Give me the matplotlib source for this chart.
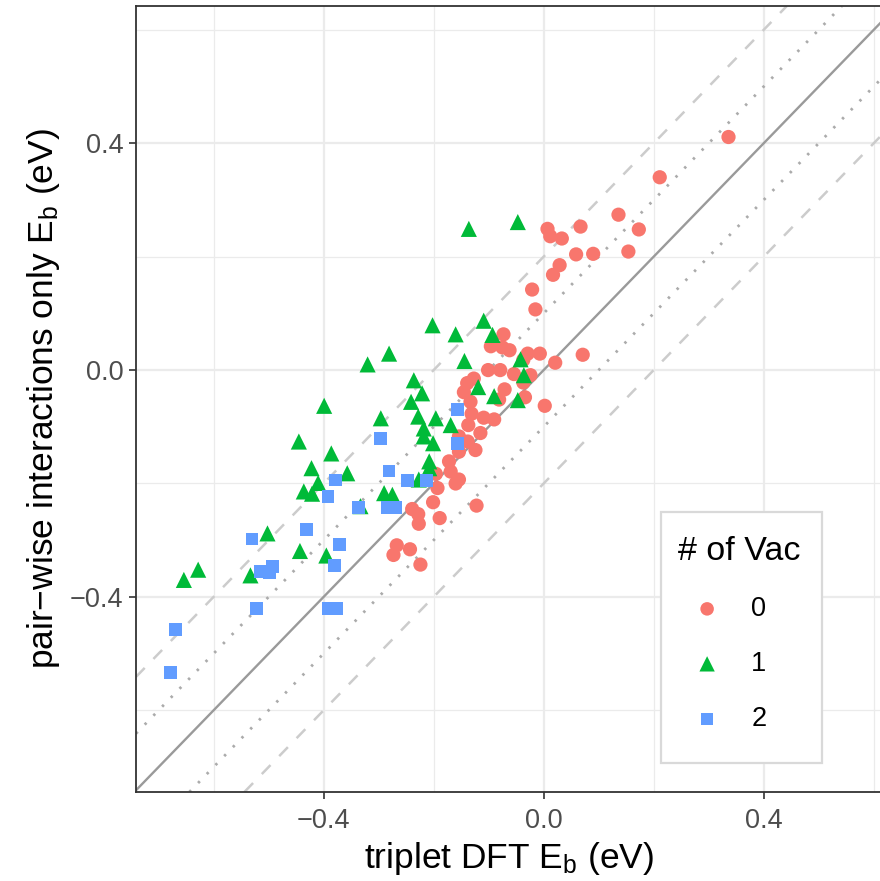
import matplotlib
matplotlib.use("Agg")
import matplotlib.pyplot as plt
from matplotlib.patches import Rectangle
import numpy as np

plt.rcParams['font.family'] = ['Liberation Sans', 'DejaVu Sans']
plt.rcParams['mathtext.default'] = 'regular'

# ---- data ----
vac0_x = [0.336, 0.211, 0.136, 0.173, 0.067, 0.007, 0.012, 0.033, 0.154, 0.059,
          0.090, 0.029, 0.017, -0.021, -0.015, -0.073, -0.096, -0.075, -0.062, -0.029,
          -0.007, -0.037, 0.071, 0.021, -0.101, -0.079, -0.054, -0.024, -0.037, -0.127,
          -0.139, -0.145, -0.071, -0.133, -0.034, 0.002, -0.131, -0.109, -0.090, -0.081,
          -0.137, -0.115, -0.154, -0.138, -0.124, -0.154, -0.172, -0.169, -0.154, -0.196,
          -0.193, -0.201, -0.122, -0.239, -0.228, -0.227, -0.189, -0.267, -0.243, -0.273,
          -0.224, -0.160]
vac0_y = [0.411, 0.340, 0.274, 0.248, 0.253, 0.249, 0.236, 0.232, 0.209, 0.204,
          0.205, 0.185, 0.168, 0.142, 0.107, 0.063, 0.042, 0.040, 0.035, 0.029,
          0.029, 0.018, 0.027, 0.013, 0.000, 0.000, -0.007, -0.009, -0.022, -0.015,
          -0.023, -0.039, -0.034, -0.056, -0.048, -0.063, -0.077, -0.084, -0.087, -0.052,
          -0.097, -0.111, -0.117, -0.126, -0.141, -0.144, -0.161, -0.179, -0.193, -0.183,
          -0.208, -0.233, -0.239, -0.245, -0.254, -0.271, -0.261, -0.309, -0.316, -0.326,
          -0.343, -0.200]

vac1_x = [-0.047, -0.136, -0.109, -0.160, -0.093, -0.144, -0.042, -0.036, -0.119, -0.090,
          -0.047, -0.202, -0.281, -0.236, -0.221, -0.241, -0.296, -0.228, -0.196, -0.169,
          -0.218, -0.218, -0.201, -0.208, -0.208, -0.227, -0.290, -0.275, -0.399, -0.445,
          -0.386, -0.422, -0.357, -0.410, -0.436, -0.421, -0.333, -0.502, -0.443, -0.395,
          -0.628, -0.654, -0.533, -0.320]
vac1_y = [0.261, 0.249, 0.087, 0.063, 0.062, 0.016, 0.019, -0.009, -0.030, -0.046,
          -0.053, 0.079, 0.029, -0.018, -0.041, -0.056, -0.085, -0.082, -0.085, -0.097,
          -0.103, -0.117, -0.129, -0.161, -0.173, -0.193, -0.217, -0.220, -0.063, -0.126,
          -0.147, -0.173, -0.182, -0.199, -0.214, -0.218, -0.240, -0.288, -0.319, -0.327,
          -0.352, -0.370, -0.362, 0.010]

vac2_x = [-0.157, -0.157, -0.281, -0.247, -0.213, -0.296, -0.284, -0.269, -0.379, -0.392,
          -0.336, -0.431, -0.530, -0.371, -0.515, -0.493, -0.498, -0.380, -0.522, -0.391,
          -0.376, -0.669, -0.679]
vac2_y = [-0.070, -0.129, -0.178, -0.195, -0.195, -0.120, -0.243, -0.243, -0.194, -0.223,
          -0.243, -0.281, -0.298, -0.308, -0.355, -0.346, -0.357, -0.345, -0.421, -0.421,
          -0.421, -0.458, -0.533]

groups = ['0', '1', '2']
colors = ['#F8766D', '#00BA38', '#619CFF']
markers = ['o', '^', 's']
sizes = [105, 135, 85]

xticks = [-0.4, 0.0, 0.4]
yticks = [-0.4, 0.0, 0.4]
minor_ticks = [-0.6, -0.2, 0.2, 0.6]

W, H = 880, 881
fig = plt.figure(figsize=(W / 100, H / 100), dpi=100)
ax = fig.add_axes([136 / W, 89 / H, 746 / W, 786 / H])

ax.set_xlim(-0.741, 0.615)
ax.set_ylim(-0.744, 0.642)

# grid
for v in minor_ticks:
    ax.axvline(v, color='#EBEBEB', lw=0.9, zorder=0)
    ax.axhline(v, color='#EBEBEB', lw=0.9, zorder=0)
for v in xticks:
    ax.axvline(v, color='#EBEBEB', lw=1.6, zorder=0)
for v in yticks:
    ax.axhline(v, color='#EBEBEB', lw=1.6, zorder=0)

# reference lines
ax.axline((0, 0), slope=1, color='#9A9A9A', lw=1.7, zorder=1)
for c in (-0.1, 0.1):
    ax.axline((0, c), slope=1, color='#ABABAB', lw=2.0, ls=(0, (0.9, 3.6)), zorder=1)
for c in (-0.2, 0.2):
    ax.axline((0, c), slope=1, color='#CCCCCC', lw=1.8, ls=(0, (5, 5)), zorder=1)

data = [(vac0_x, vac0_y), (vac1_x, vac1_y), (vac2_x, vac2_y)]
for (xs, ys), g, c, m, s in zip(data, groups, colors, markers, sizes):
    ax.scatter(xs, ys, s=s, c=c, marker=m, edgecolors='none', label=g, zorder=3)

ax.set_xticks(xticks)
ax.set_yticks(yticks)
ax.set_xticklabels([f"{v:.1f}".replace('-', '\u2212') for v in xticks])
ax.set_yticklabels([f"{v:.1f}".replace('-', '\u2212') for v in yticks])
ax.tick_params(axis='both', direction='out', length=5, width=1.2, color='#333333',
               labelcolor='#4D4D4D', labelsize=19.5)
ax.tick_params(axis='x', pad=6.5)
ax.tick_params(axis='y', pad=4)

for side in ['left', 'bottom', 'top']:
    ax.spines[side].set_color('#333333')
    ax.spines[side].set_linewidth(1.3)
ax.spines['right'].set_visible(False)

ax.set_xlabel('triplet DFT E$_b$ (eV)', fontsize=25.5, color='black', labelpad=4)
ax.set_ylabel('pair\u2212wise interactions only E$_b$ (eV)', fontsize=25.5, color='black', labelpad=6)

# legend frame drawn as a box in figure pixels
frame = Rectangle((661 / W, 1 - 763 / H), (822 - 661) / W, (763 - 512) / H,
                  transform=fig.transFigure, facecolor='white', edgecolor='#D9D9D9',
                  lw=1.6, zorder=4, clip_on=False)
ax.add_artist(frame)

leg = ax.legend(title='# of Vac', loc='upper left',
                bbox_to_anchor=(678 / W, 1 - 536 / H), bbox_transform=fig.transFigure,
                borderaxespad=0, borderpad=0, fontsize=19.5, title_fontsize=24.5,
                frameon=False, markerscale=0.95, labelspacing=1.07,
                handletextpad=0.55, handlelength=2.15)
leg.set_zorder(5)
leg._legend_box.align = 'left'

fig.savefig('out.png', dpi=100)
